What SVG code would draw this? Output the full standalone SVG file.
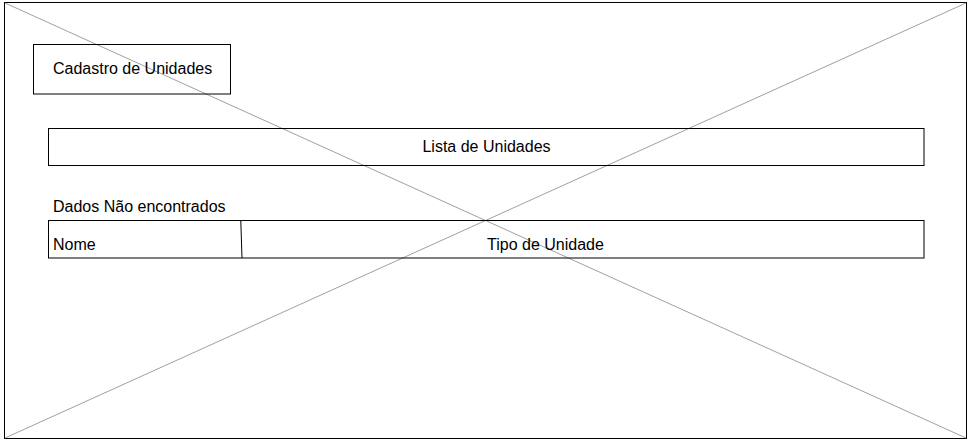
<svg xmlns="http://www.w3.org/2000/svg" width="973" height="446" viewBox="0 0 973 446">
<style>
.box{fill:#ffffff;stroke:#000000;stroke-width:1}
.diag{stroke:#a0a0a0;stroke-width:1;fill:none}
.t{font-family:"Liberation Sans",Arial,sans-serif;font-size:16px;fill:#000000}
</style>
<rect x="0" y="0" width="973" height="446" fill="#ffffff"/>
<g id="frame">
<rect class="box" x="4.5" y="2.5" width="962" height="436"/>
</g>
<g id="connectors">
<line class="diag" x1="5" y1="3" x2="966" y2="438"/>
<line class="diag" x1="5" y1="438" x2="966" y2="3"/>
</g>
<g id="title">
<rect class="box" x="33.5" y="44.5" width="197" height="49.5" fill-opacity="0"/>
<text class="t" x="53" y="74">Cadastro de Unidades</text>
</g>
<g id="lista">
<rect class="box" x="48.5" y="128.5" width="875.5" height="37" fill-opacity="0"/>
<text class="t" x="486.5" y="152" text-anchor="middle">Lista de Unidades</text>
</g>
<g id="dados">
<text class="t" x="53" y="212">Dados Não encontrados</text>
</g>
<g id="tabela">
<rect class="box" x="48.5" y="220.5" width="875.5" height="37.5" fill-opacity="0"/>
<line x1="240.8" y1="221" x2="242" y2="258" stroke="#000" stroke-width="1"/>
<text class="t" x="53" y="249.5">Nome</text>
<text class="t" x="545.5" y="249.5" text-anchor="middle">Tipo de Unidade</text>
</g>
</svg>
